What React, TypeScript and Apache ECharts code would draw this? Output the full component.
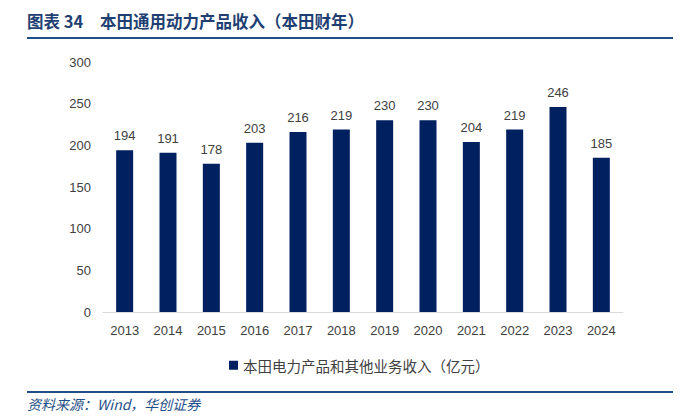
import React, { useEffect, useRef } from "react";
import * as echarts from "echarts";

const categories = ["2013", "2014", "2015", "2016", "2017", "2018", "2019", "2020", "2021", "2022", "2023", "2024"];
const revenue = [194, 191, 178, 203, 216, 219, 230, 230, 204, 219, 246, 185];
const seriesName = "本田电力产品和其他业务收入（亿元）";
const titleLabel = "图表 34";
const titleText = "本田通用动力产品收入（本田财年）";
const sourceText = "资料来源：Wind，华创证券";

export default function App() {
  const ref = useRef<HTMLDivElement>(null);
  useEffect(() => {
    if (!ref.current) return;
    const chart = echarts.init(ref.current, undefined, { renderer: "svg" });
    chart.setOption({
      animation: false,
      grid: { left: 103, right: 62, top: 62, bottom: 104 },
      legend: {
        left: 224,
        top: 353,
        icon: "rect",
        itemWidth: 9,
        itemHeight: 9,
        itemGap: 4,
        textStyle: { color: "#404040", fontSize: 14.5, fontFamily: "Noto Sans CJK SC" },
        data: [seriesName],
      },
      xAxis: {
        type: "category",
        data: categories,
        axisLine: { lineStyle: { color: "#d9d9d9", width: 1 } },
        axisTick: { show: false },
        axisLabel: { color: "#404040", fontSize: 13, margin: 12, fontFamily: "Liberation Sans" },
      },
      yAxis: {
        type: "value",
        min: 0,
        max: 300,
        interval: 50,
        axisLine: { show: false },
        axisTick: { show: false },
        splitLine: { show: false },
        axisLabel: { color: "#404040", fontSize: 13, margin: 12, fontFamily: "Liberation Sans" },
      },
      series: [
        {
          type: "bar",
          name: seriesName,
          data: revenue,
          barWidth: 17,
          itemStyle: { color: "#002060" },
          label: {
            show: true,
            position: "top",
            distance: 8,
            color: "#404040",
            fontSize: 13,
            fontFamily: "Liberation Sans",
          },
        },
      ],
      graphic: [
        {
          type: "text",
          left: 27,
          top: 13,
          style: {
            text: titleLabel,
            fill: "#1f3f73",
            font: "bold 16.5px 'Noto Sans CJK SC'",
          },
        },
        {
          type: "text",
          left: 100,
          top: 13,
          style: {
            text: titleText,
            fill: "#1f3f73",
            font: "bold 16.5px 'Noto Sans CJK SC'",
          },
        },
        {
          type: "line",
          shape: { x1: 27, y1: 38, x2: 673, y2: 38 },
          style: { stroke: "#1f4e89", lineWidth: 2 },
        },
        {
          type: "line",
          shape: { x1: 27, y1: 392, x2: 673, y2: 392 },
          style: { stroke: "#1f4e89", lineWidth: 2 },
        },
        {
          type: "text",
          left: 27,
          top: 397,
          style: {
            text: sourceText,
            fill: "#1f4e89",
            font: "italic 14px 'Noto Sans CJK SC', serif",
          },
        },
      ],
    });
    return () => chart.dispose();
  }, []);
  return <div ref={ref} style={{ width: 685, height: 416, position: "absolute", left: 0, top: 0 }} />;
}
